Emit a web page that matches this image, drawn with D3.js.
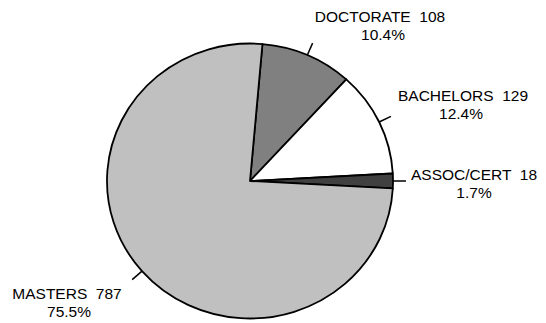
<!DOCTYPE html>
<html>
<head>
<meta charset="utf-8">
<script src="https://cdn.jsdelivr.net/npm/d3@7"></script>
<style>
  html, body { margin: 0; padding: 0; background: #fff; }
  svg { display: block; }
  text { font-family: "Liberation Sans", Arial, sans-serif; font-size: 15.5px; fill: #000; white-space: pre; }
</style>
</head>
<body>
<svg id="chart" width="546" height="323"></svg>
<script>
// Degree counts by level
const categories = ["DOCTORATE", "BACHELORS", "ASSOC/CERT", "MASTERS"];
const counts = [108, 129, 18, 787];
const fills = ["#808080", "#ffffff", "#404040", "#c0c0c0"];

const W = 546, H = 323;
const cx = 250, cy = 181;
const rx = 143, ry = 137.5;   // pie is drawn very slightly wider than tall
const R = 140;

// Label placement per slice: centre x of each line and the first baseline
const labelPos = [
  { x1: 380, x2: 383, y: 21.5 },
  { x1: 463, x2: 461, y: 101 },
  { x1: 474, x2: 474, y: 180 },
  { x1: 67,  x2: 69,  y: 298.5 }
];

const svg = d3.select("#chart");
const total = d3.sum(counts);
const data = categories.map((c, i) => ({ name: c, value: counts[i], fill: fills[i], pos: labelPos[i] }));

const pie = d3.pie()
  .sort(null)
  .value(d => d.value)
  .startAngle(5 * Math.PI / 180)
  .endAngle(5 * Math.PI / 180 + 2 * Math.PI);

const arc = d3.arc().innerRadius(0).outerRadius(R);
const arcs = pie(data);

const g = svg.append("g")
  .attr("transform", `translate(${cx},${cy}) scale(${rx / R},${ry / R})`);

g.selectAll("path")
  .data(arcs)
  .join("path")
  .attr("d", arc)
  .attr("fill", d => d.data.fill)
  .attr("stroke", "#000")
  .attr("stroke-width", 1.8)
  .attr("stroke-linejoin", "round")
  .attr("vector-effect", "non-scaling-stroke");

// Leader ticks at each slice's mid angle
const tickLen = 13;
arcs.forEach(a => {
  const m = (a.startAngle + a.endAngle) / 2;
  const sx = Math.sin(m), sy = -Math.cos(m);
  const x0 = cx + rx * sx, y0 = cy + ry * sy;
  svg.append("line")
    .attr("x1", x0).attr("y1", y0)
    .attr("x2", x0 + tickLen * sx).attr("y2", y0 + tickLen * sy)
    .attr("stroke", "#000")
    .attr("stroke-width", 1.5);
});

// Two-line labels: name and count, then share of total
const fmt = d3.format(".1%");
arcs.forEach(a => {
  const d = a.data;
  svg.append("text")
    .attr("x", d.pos.x1).attr("y", d.pos.y)
    .attr("text-anchor", "middle")
    .text(`${d.name}  ${d.value}`);
  svg.append("text")
    .attr("x", d.pos.x2).attr("y", d.pos.y + 18.3)
    .attr("text-anchor", "middle")
    .text(fmt(d.value / total));
});
</script>
</body>
</html>
